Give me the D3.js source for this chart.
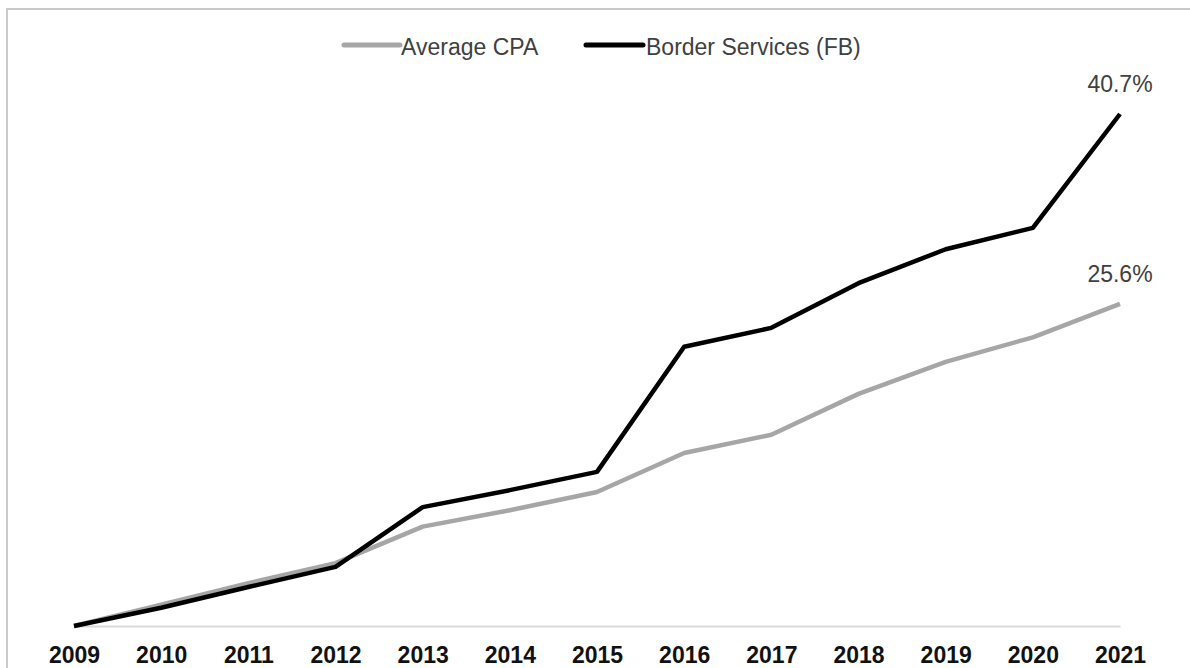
<!DOCTYPE html>
<html>
<head>
<meta charset="utf-8">
<script src="https://cdn.jsdelivr.net/npm/d3@7"></script>
<style>
    html, body { margin: 0; padding: 0; background: #fff; }
    svg { display: block; font-family: "Liberation Sans", Arial, sans-serif; }
</style>
</head>
<body>
<div id="chart"></div>
<script>
;(function () {

    // data (percent)
    var years = ['2009', '2010', '2011', '2012', '2013', '2014', '2015',
                 '2016', '2017', '2018', '2019', '2020', '2021'];
    var averageCpa = [0, 1.7, 3.4, 5.0, 7.9, 9.2, 10.65, 13.75, 15.2, 18.45, 21.0, 22.95, 25.6];
    var borderServices = [0, 1.45, 3.1, 4.7, 9.45, 10.8, 12.25, 22.2, 23.7, 27.25, 29.95, 31.65, 40.7];
    var seriesNames = ['Average CPA', 'Border Services (FB)'];
    var seriesColors = ['#a6a6a6', '#000000'];

    var width = 1190
        , height = 668;

    var svg = d3.select('#chart').append('svg')
        .attr('width', width)
        .attr('height', height);

    // chart frame
    svg.append('rect')
        .attr('x', 7)
        .attr('y', 9)
        .attr('width', width)
        .attr('height', height)
        .attr('fill', 'none')
        .attr('stroke', '#c9c9c9')
        .attr('stroke-width', 2);

    var x = d3.scalePoint()
        .domain(years)
        .range([74, 1120]);

    var y = d3.scaleLinear()
        .domain([0, 40.7])
        .range([626, 114]);

    // x axis
    var xAxis = svg.append('g')
        .attr('transform', 'translate(0,' + y(0) + ')')
        .call(d3.axisBottom(x).tickSize(0).tickSizeOuter(0));

    xAxis.select('.domain')
        .attr('stroke', '#d9d9d9')
        .attr('stroke-width', 2);

    xAxis.selectAll('.tick text')
        .attr('y', 37)
        .attr('dy', 0)
        .attr('fill', '#111')
        .style('font-size', '23px')
        .style('font-weight', 'bold')
        .style('font-family', '"Liberation Sans", Arial, sans-serif');

    var line = d3.line()
        .x(function(d, i) { return x(years[i]); })
        .y(function(d) { return y(d); });

    var series = [averageCpa, borderServices];

    svg.selectAll('.series')
        .data(series)
        .enter().append('path')
        .attr('class', 'series')
        .attr('d', line)
        .attr('fill', 'none')
        .attr('stroke', function(d, i) { return seriesColors[i]; })
        .attr('stroke-width', 4.5)
        .attr('stroke-linejoin', 'round');

    // end labels
    svg.selectAll('.end-label')
        .data(series)
        .enter().append('text')
        .attr('class', 'end-label')
        .attr('x', x(years[years.length - 1]))
        .attr('y', function(d) { return y(d[d.length - 1]) - 22; })
        .attr('text-anchor', 'middle')
        .attr('fill', '#404040')
        .style('font-size', '23px')
        .text(function(d) { return d3.format('.1f')(d[d.length - 1]) + '%'; });

    // legend
    var legendItems = [
        { x1: 344, x2: 400, tx: 401 },
        { x1: 586, x2: 643, tx: 646 }
    ];

    var legend = svg.selectAll('.legend')
        .data(legendItems)
        .enter().append('g')
        .attr('class', 'legend');

    legend.append('line')
        .attr('x1', function(d) { return d.x1; })
        .attr('x2', function(d) { return d.x2; })
        .attr('y1', 45)
        .attr('y2', 45)
        .attr('stroke', function(d, i) { return seriesColors[i]; })
        .attr('stroke-width', 5)
        .attr('stroke-linecap', 'round');

    legend.append('text')
        .attr('x', function(d) { return d.tx; })
        .attr('y', 55)
        .attr('fill', '#404040')
        .style('font-size', '23px')
        .text(function(d, i) { return seriesNames[i]; });

}());
</script>
</body>
</html>
